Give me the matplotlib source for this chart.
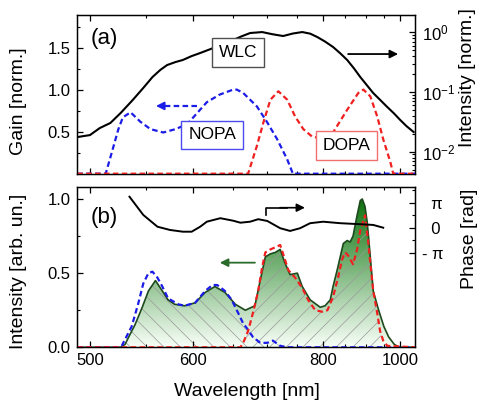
import numpy as np
import matplotlib
matplotlib.use('Agg')
import matplotlib.pyplot as plt
from matplotlib.patches import Polygon
from matplotlib.image import AxesImage
from matplotlib.colors import LinearSegmentedColormap, Normalize
from matplotlib.ticker import FixedLocator, FixedFormatter, NullFormatter, LogLocator

plt.rcParams['font.family'] = ['Liberation Sans', 'DejaVu Sans']
plt.rcParams['mathtext.fontset'] = 'custom'
plt.rcParams['mathtext.rm'] = 'Liberation Sans'
plt.rcParams['mathtext.it'] = 'Liberation Sans:italic'
plt.rcParams['hatch.linewidth'] = 0.5

# ---------------- data ----------------
# (a) white-light continuum (right log axis)
wlc_wl = [490, 500, 508, 517, 526, 537, 547, 556, 564, 571, 580, 588, 598, 608, 624, 637,
          650, 662, 674, 692, 708, 726, 743, 760, 775, 789, 805, 822, 838, 854, 870, 886,
          903, 920, 940, 960, 980, 1000, 1020, 1045]
wlc_int = [0.0176, 0.019, 0.0249, 0.0303, 0.0445, 0.0735, 0.117, 0.178, 0.235, 0.283, 0.318,
           0.344, 0.40, 0.450, 0.546, 0.64, 0.743, 0.86, 0.973, 1.01, 0.93, 0.867, 0.955,
           1.01, 0.95, 0.834, 0.70, 0.568, 0.445, 0.344, 0.25, 0.178, 0.13, 0.096, 0.073,
           0.056, 0.044, 0.034, 0.027, 0.0214]
# (a) gain curves
nopa_gain_wl = [490, 513, 519, 524, 528, 535, 544, 554, 567, 580, 593, 616, 632, 650, 655,
                664, 684, 700, 716, 733, 743, 1050]
nopa_gain = [0, 0, 0.29, 0.53, 0.67, 0.73, 0.62, 0.53, 0.49, 0.53, 0.59, 0.85, 0.94, 1.0,
             1.0, 0.96, 0.80, 0.61, 0.41, 0.17, 0, 0]
dopa_gain_wl = [490, 671, 684, 694, 705, 718, 733, 747, 762, 779, 800, 822, 854, 881, 894,
                912, 931, 948, 969, 978, 1050]
dopa_gain = [0, 0, 0.33, 0.61, 0.88, 0.98, 0.88, 0.68, 0.53, 0.44, 0.42, 0.49, 0.76, 0.96,
             1.0, 0.92, 0.68, 0.41, 0.14, 0, 0]

# (b) output spectra
spec_wl = [490, 526, 530, 534, 539, 546, 552, 559, 566, 572, 579, 590, 602, 614, 626, 639,
           653, 667, 681, 689, 697, 705, 713, 721, 729, 738, 751, 760, 775, 795, 805, 816,
           822, 831, 838, 845, 854, 861, 868, 878, 886, 891, 898, 904, 912, 920, 935, 950,
           964, 981, 997, 1050]
spec_int = [0, 0, 0.02, 0.08, 0.15, 0.27, 0.38, 0.45, 0.38, 0.32, 0.29, 0.28, 0.30, 0.37,
            0.41, 0.37, 0.29, 0.25, 0.28, 0.45, 0.61, 0.63, 0.64, 0.66, 0.57, 0.49, 0.50,
            0.41, 0.32, 0.27, 0.28, 0.32, 0.41, 0.52, 0.61, 0.70, 0.72, 0.71, 0.75, 0.89,
            0.99, 1.0, 0.95, 0.84, 0.61, 0.38, 0.25, 0.14, 0.07, 0.02, 0, 0]
nopa_wl = [490, 524, 527, 536, 542, 547, 552, 556, 561, 566, 572, 583, 590, 602, 614, 623,
           629, 639, 648, 657, 664, 669, 678, 689, 700, 709, 721, 733, 1050]
nopa_int = [0, 0, 0.01, 0.14, 0.29, 0.43, 0.50, 0.51, 0.47, 0.41, 0.33, 0.29, 0.28, 0.30,
            0.38, 0.42, 0.42, 0.38, 0.32, 0.23, 0.16, 0.13, 0.07, 0.03, 0.03, 0.045, 0.01,
            0, 0]
dopa_wl = [490, 660, 664, 671, 678, 686, 692, 697, 705, 716, 721, 726, 735, 747, 760, 771,
           785, 799, 810, 822, 833, 842, 849, 856, 866, 868, 878, 886, 891, 898, 906, 912,
           920, 931, 939, 948, 960, 1050]
dopa_int = [0, 0, 0.03, 0.11, 0.23, 0.38, 0.54, 0.64, 0.66, 0.68, 0.69, 0.63, 0.52, 0.47,
            0.40, 0.32, 0.25, 0.24, 0.25, 0.34, 0.47, 0.59, 0.64, 0.62, 0.57, 0.56, 0.66,
            0.79, 0.83, 0.89, 0.72, 0.57, 0.38, 0.23, 0.11, 0.045, 0.01, 0]
# spectral phase, in units of pi
phase_wl = [534, 547, 561, 574, 588, 598, 608, 616, 633, 650, 660, 674, 686, 700, 721, 738,
            756, 775, 801, 838, 886, 920, 948]
phase_pi = [1.24, 0.51, 0.04, -0.09, -0.16, -0.16, 0.04, 0.24, 0.38, 0.28, 0.2, 0.24, 0.34,
            0.27, -0.02, -0.13, -0.02, 0.18, 0.24, 0.18, 0.14, 0.11, 0.0]

x_major = [500, 600, 800, 1000]
x_minor = [550, 650, 700, 750, 850, 900, 950]

# ---------------- figure ----------------
W, H = 479, 407
fig = plt.figure(figsize=(W / 100, H / 100), dpi=100)


def rect(x0, y0, x1, y1):
    return [x0 / W, 1 - y1 / H, (x1 - x0) / W, (y1 - y0) / H]


def fwd(x):
    with np.errstate(divide='ignore', invalid='ignore'):
        return -1000.0 / np.asarray(x, float)


def inv(u):
    with np.errstate(divide='ignore', invalid='ignore'):
        return -1000.0 / np.asarray(u, float)


BLUE = '#1c1ce8'
RED = '#f02020'
DKGREEN = '#1d4a1d'

axA = fig.add_axes(rect(77.3, 15, 415, 173.7))
axB = fig.add_axes(rect(77.3, 187.3, 415, 347.3))

for ax in (axA, axB):
    ax.set_xscale('function', functions=(fwd, inv))
    ax.set_xlim(490, 1050)
    ax.xaxis.set_major_locator(FixedLocator(x_major))
    ax.xaxis.set_minor_locator(FixedLocator(x_minor))
    ax.xaxis.set_major_formatter(FixedFormatter([str(v) for v in x_major]))
    ax.xaxis.set_minor_formatter(NullFormatter())
    ax.tick_params(axis='both', which='both', direction='in', top=True, bottom=True,
                   right=False, labelsize=12)
    ax.tick_params(which='major', length=4.5, width=0.9)
    ax.tick_params(which='minor', length=2.5, width=0.8)
    for s in ax.spines.values():
        s.set_linewidth(1.0)

axA.tick_params(axis='x', labelbottom=False)
axB.tick_params(axis='x', pad=4)

# ---- panel (a) ----
axA.plot(nopa_gain_wl, nopa_gain, ls='--', color=BLUE, lw=1.6, dashes=(2.5, 1.5), zorder=3)
axA.plot(dopa_gain_wl, dopa_gain, ls='--', color=RED, lw=1.6, dashes=(2.5, 1.5), zorder=3)
axA.set_ylim(0, 1.887)
axA.yaxis.set_major_locator(FixedLocator([0.5, 1.0, 1.5]))
axA.yaxis.set_major_formatter(FixedFormatter(['0.5', '1.0', '1.5']))
axA.yaxis.set_minor_locator(FixedLocator([0.25, 0.75, 1.25, 1.75]))
axA.tick_params(axis='y', pad=5)

axA2 = axA.twinx()
axA2.plot(wlc_wl, wlc_int, color='black', lw=1.5, zorder=4)
axA2.set_yscale('log')
axA2.set_ylim(10 ** -2.368, 10 ** 0.29)
axA2.yaxis.set_major_locator(FixedLocator([1e-2, 1e-1, 1e0]))
axA2.yaxis.set_major_formatter(FixedFormatter([r'$10^{-2}$', r'$10^{-1}$', r'$10^{0}$']))
axA2.yaxis.set_minor_locator(LogLocator(base=10, subs=np.arange(2, 10), numticks=20))
axA2.yaxis.set_minor_formatter(NullFormatter())
axA2.tick_params(axis='y', which='both', direction='in', labelsize=12, pad=5)
axA2.tick_params(which='major', length=4.5, width=0.9)
axA2.tick_params(which='minor', length=2.5, width=0.8)

tA = axA2.transAxes
axA2.text(0.079, 0.849, '(a)', transform=tA, fontsize=16, ha='center', va='center')
axA2.text(0.476, 0.761, 'WLC', transform=tA, fontsize=12.5, ha='center', va='center', zorder=6,
          bbox=dict(boxstyle='square,pad=0.4', fc='white', ec='#505050', lw=1.0))
axA2.text(0.400, 0.244, 'NOPA', transform=tA, fontsize=12.5, ha='center', va='center', zorder=6,
          bbox=dict(boxstyle='square,pad=0.4', fc='white', ec='#4a4af0', lw=1.0))
axA2.text(0.797, 0.175, 'DOPA', transform=tA, fontsize=12.5, ha='center', va='center', zorder=6,
          bbox=dict(boxstyle='square,pad=0.4', fc='white', ec='#f07070', lw=1.0))
# arrows
axA2.annotate('', xy=(0.950, 0.754), xytext=(0.802, 0.754), xycoords=tA, textcoords=tA,
              arrowprops=dict(arrowstyle='-|>', color='black', lw=1.3, mutation_scale=12,
                              shrinkA=0, shrinkB=0))
axA2.plot([0.354, 0.255], [0.427, 0.427], transform=tA, color=BLUE, ls='--', lw=1.6,
          dashes=(2.5, 1.5))
axA2.annotate('', xy=(0.233, 0.427), xytext=(0.262, 0.427), xycoords=tA, textcoords=tA,
              arrowprops=dict(arrowstyle='-|>', color=BLUE, lw=1.3, mutation_scale=12,
                              shrinkA=0, shrinkB=0))

# ---- panel (b) ----
axB.set_ylim(0, 1.079)
axB.yaxis.set_major_locator(FixedLocator([0.0, 0.5, 1.0]))
axB.yaxis.set_major_formatter(FixedFormatter(['0.0', '0.5', '1.0']))
axB.yaxis.set_minor_locator(FixedLocator([0.25, 0.75]))
axB.tick_params(axis='y', pad=5)

green_patch = Polygon(np.column_stack([spec_wl, spec_int]), closed=True,
                      transform=axB.transData, fc='none', ec='none')
axB.add_patch(green_patch)

cmap = LinearSegmentedColormap.from_list('gr', [(0.97, 1.0, 0.97), (0.05, 0.45, 0.05)])
grad = np.linspace(0, 1.079, 300)[:, None] * np.ones((1, 2))
im = AxesImage(axB, cmap=cmap, norm=Normalize(0, 1.0), extent=(0, 1, 0, 1), origin='lower',
               interpolation='bilinear', transform=axB.transAxes)
im.set_data(grad)
im.set_zorder(1)
axB.add_image(im)
im.set_clip_path(green_patch)

hN = axB.fill_between(nopa_wl, nopa_int, 0, facecolor='none', edgecolor=(0.6, 0.6, 0.6),
                      hatch='\\\\', linewidth=0, zorder=1.5)
hN.set_clip_path(green_patch)
hD = axB.fill_between(dopa_wl, dopa_int, 0, facecolor='none', edgecolor=(0.6, 0.6, 0.6),
                      hatch='//', linewidth=0, zorder=1.5)
hD.set_clip_path(green_patch)

axB.plot(spec_wl, spec_int, color=DKGREEN, lw=1.2, zorder=2)
axB.plot(nopa_wl, nopa_int, ls='--', color=BLUE, lw=1.6, dashes=(2.5, 1.5), zorder=3)
axB.plot(dopa_wl, dopa_int, ls='--', color=RED, lw=1.6, dashes=(2.5, 1.5), zorder=3)

axB2 = axB.twinx()
axB2.plot(phase_wl, np.pi * np.asarray(phase_pi), color='black', lw=1.4, zorder=4)
axB2.set_ylim(-4.784 * np.pi, 1.616 * np.pi)
axB2.yaxis.set_major_locator(FixedLocator([-np.pi, 0, np.pi]))
axB2.yaxis.set_major_formatter(FixedFormatter(['- π', '  0', '  π']))
axB2.yaxis.set_minor_locator(FixedLocator([-np.pi / 2, np.pi / 2, 1.5 * np.pi]))
axB2.tick_params(axis='y', which='both', direction='in', labelsize=12, pad=5)
axB2.tick_params(which='major', length=4.5, width=0.9)
axB2.tick_params(which='minor', length=2.5, width=0.8)

tB = axB2.transAxes
axB2.text(0.079, 0.814, '(b)', transform=tB, fontsize=16, ha='center', va='center')
axB2.plot([0.559, 0.559, 0.62], [0.827, 0.8725, 0.8725], transform=tB, color='black', lw=1.2)
axB2.annotate('', xy=(0.674, 0.8725), xytext=(0.60, 0.8725), xycoords=tB, textcoords=tB,
              arrowprops=dict(arrowstyle='-|>', color='black', lw=1.2, mutation_scale=12,
                              shrinkA=0, shrinkB=0))
axB2.annotate('', xy=(0.422, 0.529), xytext=(0.526, 0.529), xycoords=tB, textcoords=tB,
              arrowprops=dict(arrowstyle='-|>', color='#2a6a2a', lw=1.3, mutation_scale=12,
                              shrinkA=0, shrinkB=0))

# ---- axis labels ----
fig.text(19 / W, 1 - 101 / H, 'Gain [norm.]', rotation=90, ha='center', va='center', fontsize=14)
fig.text(19 / W, 1 - 271.5 / H, 'Intensity [arb. un.]', rotation=90, ha='center', va='center',
         fontsize=14)
fig.text(468 / W, 1 - 77.5 / H, 'Intensity [norm.]', rotation=90, ha='center', va='center',
         fontsize=14)
fig.text(469 / W, 1 - 239 / H, 'Phase [rad]', rotation=90, ha='center', va='center', fontsize=14)
fig.text(246.5 / W, 1 - 392 / H, 'Wavelength [nm]', ha='center', va='center', fontsize=14)

fig.savefig('out.png', dpi=100)
